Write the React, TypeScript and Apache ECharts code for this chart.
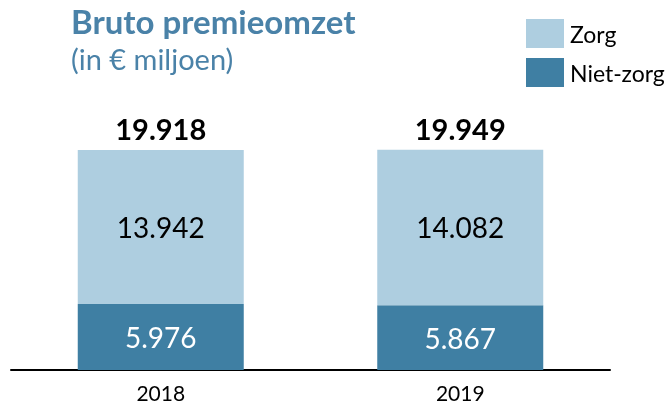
import React, { useEffect, useRef } from "react";
import * as echarts from "echarts";

const categories = ["2018", "2019"];
const nietZorg = [5976, 5867];
const zorg = [13942, 14082];
const totals = [19918, 19949];

const FONT = "Lato, 'Liberation Sans', sans-serif";
const fmt = (v: number) => String(v).replace(/\B(?=(\d{3})+(?!\d))/g, ".");

export default function App() {
  const ref = useRef<HTMLDivElement>(null);
  useEffect(() => {
    const chart = echarts.init(ref.current!, null, { renderer: "svg" });
    chart.setOption({
      animation: false,
      textStyle: { fontFamily: FONT },
      title: {
        text: "Bruto premieomzet",
        subtext: "(in € miljoen)",
        left: 66,
        top: -4,
        itemGap: 0,
        textStyle: { fontFamily: FONT, fontSize: 33, lineHeight: 40, fontWeight: "bold", color: "#4a82a8" },
        subtextStyle: { fontFamily: FONT, fontSize: 29, lineHeight: 35, color: "#4a82a8" },
      },
      legend: {
        data: ["Zorg", "Niet-zorg"],
        orient: "vertical",
        left: 521,
        top: 14,
        itemWidth: 38,
        itemHeight: 29,
        itemGap: 10,
        icon: "rect",
        textStyle: { fontFamily: FONT, fontSize: 23, color: "#000", padding: [0, 0, 0, 1] },
      },
      grid: { left: 11, right: 62, top: 94, bottom: 36, containLabel: false },
      xAxis: {
        type: "category",
        data: categories,
        axisLine: { lineStyle: { color: "#000", width: 2 } },
        axisTick: { show: false },
        axisLabel: { fontFamily: FONT, fontSize: 21, color: "#000", margin: 12 },
      },
      yAxis: { type: "value", min: 0, max: 25000, show: false, splitLine: { show: false } },
      series: [
        {
          name: "Niet-zorg",
          type: "bar",
          stack: "t",
          barWidth: 166,
          data: nietZorg,
          itemStyle: { color: "#3f7fa3" },
          label: { show: true, position: "inside", fontFamily: FONT, fontSize: 28, color: "#fff", formatter: (p: any) => fmt(p.value) },
        },
        {
          name: "Zorg",
          type: "bar",
          stack: "t",
          barWidth: 166,
          data: zorg,
          itemStyle: { color: "#aecee0" },
          label: { show: true, position: "inside", fontFamily: FONT, fontSize: 28, color: "#000", formatter: (p: any) => fmt(p.value) },
        },
        {
          name: "Totaal",
          type: "bar",
          stack: "t",
          barWidth: 166,
          data: totals.map(() => 0),
          itemStyle: { color: "transparent" },
          label: {
            show: true,
            position: "top",
            distance: 7,
            fontFamily: FONT,
            fontSize: 29,
            fontWeight: "bold",
            color: "#000",
            formatter: (p: any) => fmt(totals[p.dataIndex]),
          },
        },
      ],
    });
    return () => chart.dispose();
  }, []);
  return <div ref={ref} style={{ width: 672, height: 406, position: "fixed", left: 0, top: 0 }} />;
}
